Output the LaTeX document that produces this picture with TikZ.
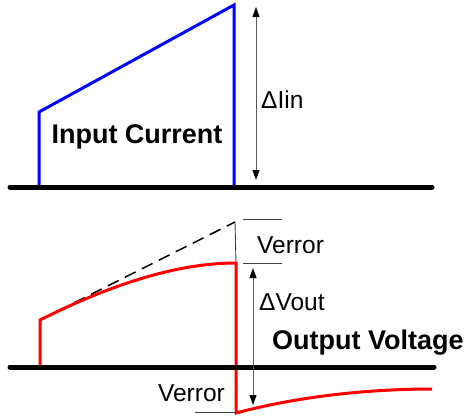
\documentclass[tikz,border=0pt]{standalone}
\usepackage{fontspec}
\setmainfont{Liberation Sans}
\usetikzlibrary{arrows.meta}
\tikzset{
  axisline/.style={line width=5pt,line cap=round},
  wave/.style={line width=3pt},
  dimarrow/.style={black!65,line width=1pt,
    {Triangle[length=10pt,width=7pt,color=black]}-{Triangle[length=10pt,width=7pt,color=black]}},
  tickline/.style={black!75,line width=0.9pt},
  lbl/.style={font=\fontsize{24.5}{28}\selectfont,inner sep=0pt},
  title/.style={font=\bfseries\fontsize{27}{30}\selectfont,inner sep=0pt},
}
\begin{document}
\begin{tikzpicture}[x=1pt,y=-1pt]
  \useasboundingbox (0,0) rectangle (465,415);
  % input current
  \coordinate (ia) at (39,187);
  \coordinate (ib) at (39,112);
  \coordinate (ic) at (234,5);
  \coordinate (id) at (234,187);
  \draw[blue,wave,line join=miter] (ia) -- (ib) -- (ic) -- (id);
  \draw[axisline] (10,187) -- (432,187);
  \coordinate (iT) at (256,7);
  \coordinate (iB) at (256,180);
  \draw[dimarrow] (iT) -- (iB);
  \node[lbl,anchor=west] (dIin) at (261,100) {ΔIin};
  \node[title] (inlbl) at (137,137) {Input Current};
  % output voltage
  \coordinate (va) at (40,367);
  \coordinate (vb) at (40,320);
  \coordinate (vc) at (236,263);
  \coordinate (vd) at (236,413);
  \coordinate (ve) at (432,389);
  \coordinate (vi) at (235,222);
  \draw[line width=1.5pt,dash pattern=on 12pt off 7pt] (vb) -- (vi);
  \draw[tickline] (vi) -- (vc);
  \draw[red,wave,line join=miter] (va) -- (vb)
    .. controls (100,290) and (170,263) .. (vc) -- (vd)
    .. controls (300,396) and (370,389) .. (ve);
  \draw[axisline] (10,367) -- (434,367);
  \draw[tickline] (243,219) -- (282,219);
  \draw[tickline] (243,263) -- (282,263);
  \draw[tickline] (195,412) -- (236,412);
  \coordinate (vT) at (253,268);
  \coordinate (vB) at (253,405);
  \draw[dimarrow] (vT) -- (vB);
  \node[lbl,anchor=west] (verrT) at (257,245) {Verror};
  \node[lbl,anchor=west] (dVout) at (259,302) {ΔVout};
  \node[lbl,anchor=east] (verrB) at (225,393) {Verror};
  \node[title,anchor=west] (outlbl) at (272,343) {Output Voltage};
\end{tikzpicture}
\end{document}
